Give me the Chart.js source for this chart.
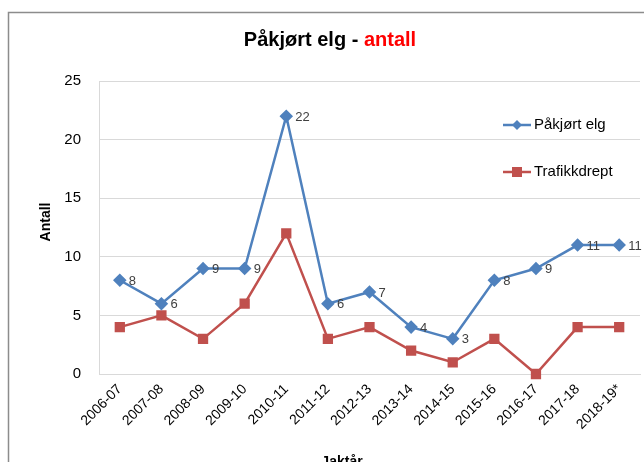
<!DOCTYPE html>
<html>
<head>
<meta charset="utf-8">
<script src="https://cdn.jsdelivr.net/npm/chart.js@4"></script>
<style>
body{margin:0;background:#fff;}
</style>
</head>
<body>
<canvas id="lineChart" width="644" height="462"></canvas>
<script>

// DATA

const seasons = ["2006-07","2007-08","2008-09","2009-10","2010-11","2011-12","2012-13","2013-14","2014-15","2015-16","2016-17","2017-18","2018-19*"];
const hitMoose = [8,6,9,9,22,6,7,4,3,8,9,11,11];
const killedMoose = [4,5,3,6,12,3,4,2,1,3,0,4,4];
const yTicks = [0,5,10,15,20,25];

const FONT = "'Liberation Sans', Arial, sans-serif";

// FRAME, TITLES, LEGEND, LABELS

const decor = {
id:"decor",
beforeDraw(chart){
let ctx = chart.ctx;
ctx.save();
ctx.strokeStyle = "#8c8c8c";
ctx.lineWidth = 1.5;
ctx.strokeRect(8.5,12.5,700,500);
ctx.restore();
},
afterDraw(chart){
let ctx = chart.ctx;
ctx.save();

// title
ctx.font = "bold 20px " + FONT;
ctx.textBaseline = "middle";
let a = "Påkjørt elg - ";
let b = "antall";
let wa = ctx.measureText(a).width;
let wb = ctx.measureText(b).width;
let x0 = 330 - (wa+wb)/2;
ctx.fillStyle = "#000";
ctx.fillText(a,x0,40);
ctx.fillStyle = "#ff0000";
ctx.fillText(b,x0+wa,40);

// axis titles
ctx.fillStyle = "#000";
ctx.font = "bold 14px " + FONT;
ctx.textAlign = "center";
ctx.fillText("Jaktår",342,462);
ctx.translate(46,222);
ctx.rotate(-Math.PI/2);
ctx.fillText("Antall",0,0);
ctx.setTransform(1,0,0,1,0,0);

// legend
let items = [[125,0],[172,1]];
ctx.textAlign = "left";
ctx.font = "15px " + FONT;
items.forEach(function(it){
let ds = chart.data.datasets[it[1]];
let y = it[0];
ctx.strokeStyle = ds.borderColor;
ctx.lineWidth = 2.5;
ctx.beginPath();
ctx.moveTo(503,y);
ctx.lineTo(531,y);
ctx.stroke();
ctx.fillStyle = ds.backgroundColor;
ctx.beginPath();
if(ds.pointStyle==="rect"){
ctx.rect(512,y-5,10,10);
}else{
ctx.moveTo(517,y-5);ctx.lineTo(522,y);ctx.lineTo(517,y+5);ctx.lineTo(512,y);
ctx.closePath();
}
ctx.fill();
ctx.fillStyle = "#000";
ctx.fillText(ds.label,534,y);
});

// value labels for blue line
let meta = chart.getDatasetMeta(0);
ctx.font = "13px " + FONT;
ctx.fillStyle = "#404040";
meta.data.forEach(function(p,i){
ctx.fillText(hitMoose[i],p.x+9,p.y+1);
});

ctx.restore();
}
};

// LINE CHART

new Chart(
document.getElementById("lineChart"),
{
type:"line",
data:{
labels:seasons,
datasets:[{
label:"Påkjørt elg",
data:hitMoose,
borderColor:"#4f81bd",
backgroundColor:"#4f81bd",
borderWidth:2.5,
pointStyle:"rectRot",
pointRadius:5,
clip:false,
tension:0
},{
label:"Trafikkdrept",
data:killedMoose,
borderColor:"#c0504d",
backgroundColor:"#c0504d",
borderWidth:2.5,
pointStyle:"rect",
pointRadius:5.5,
clip:false,
tension:0
}]
},
options:{
responsive:false,
animation:false,
layout:{autoPadding:false,padding:{top:81,right:4,left:0,bottom:0}},
plugins:{
legend:{display:false},
tooltip:{enabled:false}
},
scales:{
x:{
offset:true,
grid:{display:false,drawTicks:false},
border:{color:"#d9d9d9"},
ticks:{
autoSkip:false,
minRotation:45,
maxRotation:45,
padding:7,
color:"#000",
font:{family:FONT,size:14}
},
afterFit(scale){
scale.height = 88;
scale.paddingLeft = 0;
scale.paddingRight = 0;
}
},
y:{
min:0,
max:25,
afterBuildTicks(scale){
scale.ticks = yTicks.map(function(v){return {value:v};});
},
grid:{color:"#d9d9d9",drawTicks:false},
border:{color:"#d9d9d9"},
ticks:{
padding:18,
color:"#000",
font:{family:FONT,size:15}
},
afterFit(scale){
scale.width = 99;
scale.paddingTop = 0;
scale.paddingBottom = 0;
}
}
}
},
plugins:[decor]
}
);

</script>
</body>
</html>
